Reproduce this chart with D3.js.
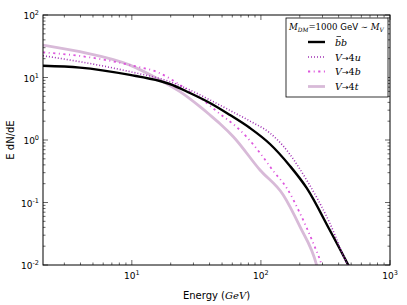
<!DOCTYPE html>
<html>
<head>
<meta charset="utf-8">
<script src="https://cdn.jsdelivr.net/npm/d3@7"></script>
<style>
  body { margin: 0; background: #fff; }
  svg { font-family: "DejaVu Sans", sans-serif; }
  .math { font-family: "DejaVu Serif", serif; font-style: italic; }
</style>
</head>
<body>
<svg width="407" height="305"></svg>
<script>
// energies (GeV) and E dN/dE
let bbE   = [2.05, 3.96, 9.67, 16.5, 19.7, 28.2, 40.3, 57.6, 82.2, 117.5, 167.9, 226, 342, 475, 535]
let bbV   = [15.4, 14.4, 11.0, 8.79, 7.87, 5.65, 3.91, 2.51, 1.556, 0.863, 0.384, 0.171, 0.036, 0.01, 0.0062]

let uE    = [2.05, 3.96, 9.67, 19.7, 28.2, 40.3, 57.6, 82.2, 117.5, 148.9, 226, 342, 461.6, 507]
let uV    = [22.3, 17.9, 12.4, 8.57, 6.31, 4.37, 2.97, 2.01, 1.29, 0.802, 0.229, 0.0465, 0.0108, 0.0075]

let bE    = [2.05, 3.96, 9.67, 16.5, 23.6, 28.2, 33.7, 48.2, 64.9, 77.6, 98.4, 124.7, 158.3, 200.7, 254.4, 295.4, 319]
let bV    = [25.3, 22.1, 15.8, 11.7, 7.59, 5.86, 4.70, 2.61, 1.61, 1.117, 0.62, 0.319, 0.171, 0.0672, 0.0223, 0.01, 0.0056]

let tE    = [2.05, 3.96, 9.67, 16.5, 23.6, 33.7, 40.3, 48.2, 61.1, 98.4, 148.9, 200.7, 270, 292]
let tV    = [33.1, 25.9, 15.8, 9.12, 5.93, 3.41, 2.51, 1.82, 1.13, 0.331, 0.132, 0.041, 0.01, 0.0052]

let xTicks = [10, 100, 1000]
let yTicks = [0.01, 0.1, 1, 10, 100]

let width = 407
let height = 305
let margin = {left: 43, right: 17, top: 15, bottom: 40}

let svg = d3.select("svg")

let xScale = d3.scaleLog().domain([2.05, 1000]).range([margin.left, width - margin.right])
let yScale = d3.scaleLog().domain([0.01, 100]).range([height - margin.bottom, margin.top])

let x0 = margin.left, x1 = width - margin.right
let y0 = margin.top, y1 = height - margin.bottom

svg.append("defs").append("clipPath").attr("id", "clip")
   .append("rect").attr("x", x0).attr("y", y0).attr("width", x1 - x0).attr("height", y1 - y0)

let series = [
  {E: bbE, V: bbV, color: "#000000", w: 2.4, dash: null},
  {E: uE, V: uV, color: "#a030b4", w: 1.6, dash: "1,2"},
  {E: bE, V: bV, color: "#dd55dd", w: 1.8, dash: "2.2,3.5,1,3.5"},
  {E: tE, V: tV, color: "#d8bad8", w: 2.8, dash: null}
]

let line = d3.line()
             .x(d => xScale(d[0]))
             .y(d => yScale(d[1]))
             .curve(d3.curveMonotoneX)

let plot = svg.append("g").attr("clip-path", "url(#clip)")
let order = [3, 2, 0, 1]
order.forEach(i => {
  let s = series[i]
  plot.append("path")
      .datum(s.E.map((e, k) => [e, s.V[k]]))
      .attr("d", line)
      .attr("fill", "none")
      .attr("stroke", s.color)
      .attr("stroke-width", s.w)
      .attr("stroke-dasharray", s.dash)
})

// minor ticks
let minorX = []
for (let p = 0; p < 3; p++) for (let m = 2; m < 10; m++) {
  let v = m * Math.pow(10, p)
  if (v >= 2.05 && v <= 1000) minorX.push(v)
}
let minorY = []
for (let p = -2; p < 2; p++) for (let m = 2; m < 10; m++) minorY.push(m * Math.pow(10, p))

let ticks = svg.append("g").attr("stroke", "#000").attr("stroke-width", 0.6)
xTicks.forEach(v => {
  let x = xScale(v)
  ticks.append("line").attr("x1", x).attr("x2", x).attr("y1", y1).attr("y2", y1 - 5)
  ticks.append("line").attr("x1", x).attr("x2", x).attr("y1", y0).attr("y2", y0 + 5)
})
minorX.forEach(v => {
  let x = xScale(v)
  ticks.append("line").attr("x1", x).attr("x2", x).attr("y1", y1).attr("y2", y1 - 2.5)
  ticks.append("line").attr("x1", x).attr("x2", x).attr("y1", y0).attr("y2", y0 + 2.5)
})
yTicks.forEach(v => {
  let y = yScale(v)
  ticks.append("line").attr("x1", x0).attr("x2", x0 + 5).attr("y1", y).attr("y2", y)
  ticks.append("line").attr("x1", x1).attr("x2", x1 - 5).attr("y1", y).attr("y2", y)
})
minorY.forEach(v => {
  let y = yScale(v)
  ticks.append("line").attr("x1", x0).attr("x2", x0 + 2.5).attr("y1", y).attr("y2", y)
  ticks.append("line").attr("x1", x1).attr("x2", x1 - 2.5).attr("y1", y).attr("y2", y)
})

svg.append("rect").attr("x", x0).attr("y", y0).attr("width", x1 - x0).attr("height", y1 - y0)
   .attr("fill", "none").attr("stroke", "#000").attr("stroke-width", 1)

// tick labels 10^n
let expo = v => Math.round(Math.log10(v))
xTicks.forEach(v => {
  let t = svg.append("text").attr("x", xScale(v)).attr("y", y1 + 14)
             .attr("text-anchor", "middle").attr("font-size", 9)
  t.append("tspan").text("10")
  t.append("tspan").attr("dy", -4).attr("font-size", 6.5).text(expo(v))
})
yTicks.forEach(v => {
  let t = svg.append("text").attr("x", x0 - 4).attr("y", yScale(v) + 4)
             .attr("text-anchor", "end").attr("font-size", 9)
  t.append("tspan").text("10")
  t.append("tspan").attr("dy", -4).attr("font-size", 6.5).text(expo(v))
})

// axis titles
let xl = svg.append("text").attr("x", (x0 + x1) / 2).attr("y", y1 + 34)
            .attr("text-anchor", "middle").attr("font-size", 10)
xl.append("tspan").text("Energy (")
xl.append("tspan").attr("class", "math").text("GeV")
xl.append("tspan").text(")")

svg.append("text").attr("transform", "translate(14," + ((y0 + y1) / 2) + ") rotate(-90)")
   .attr("text-anchor", "middle").attr("font-size", 10).text("E dN/dE")

// legend
let lg = svg.append("g").attr("id", "legend")
lg.append("rect").attr("x", 286).attr("y", 18).attr("width", 102).attr("height", 79)
  .attr("fill", "#fff").attr("stroke", "#000").attr("stroke-width", 0.8)

let title = lg.append("text").attr("x", 289).attr("y", 30).attr("font-size", 8.6)
title.append("tspan").attr("class", "math").text("M")
title.append("tspan").attr("class", "math").attr("font-size", 5.8).attr("dy", 2).text("DM")
title.append("tspan").attr("dy", -2).attr("font-family", "DejaVu Serif").text("=1000 ")
title.append("tspan").text("GeV")
title.append("tspan").attr("font-family", "DejaVu Serif").text(" ∼ ")
title.append("tspan").attr("class", "math").text("M")
title.append("tspan").attr("class", "math").attr("font-size", 5.8).attr("dy", 2).text("V")

let labels = ["bb", "V→4u", "V→4b", "V→4t"]
let rowsY = [42, 57, 71.5, 86.5]
labels.forEach((lab, i) => {
  let s = series[i]
  lg.append("line").attr("x1", 308).attr("x2", 325).attr("y1", rowsY[i]).attr("y2", rowsY[i])
    .attr("stroke", s.color).attr("stroke-width", s.w).attr("stroke-dasharray", s.dash)
  let t = lg.append("text").attr("x", 335).attr("y", rowsY[i] + 3.5).attr("font-size", 9.5)
            .attr("class", "math")
  if (i == 0) {
    t.text(lab)
    // bar over the first b
    lg.append("line").attr("x1", 336.5).attr("x2", 341).attr("y1", rowsY[i] - 5.5).attr("y2", rowsY[i] - 5.5)
      .attr("stroke", "#000").attr("stroke-width", 0.7)
  } else {
    t.append("tspan").text("V")
    t.append("tspan").style("font-style", "normal").attr("font-family", "DejaVu Sans").attr("font-size", 8).text("→")
    t.append("tspan").style("font-style", "normal").text("4")
    t.append("tspan").text(lab.slice(-1))
  }
})
</script>
</body>
</html>
